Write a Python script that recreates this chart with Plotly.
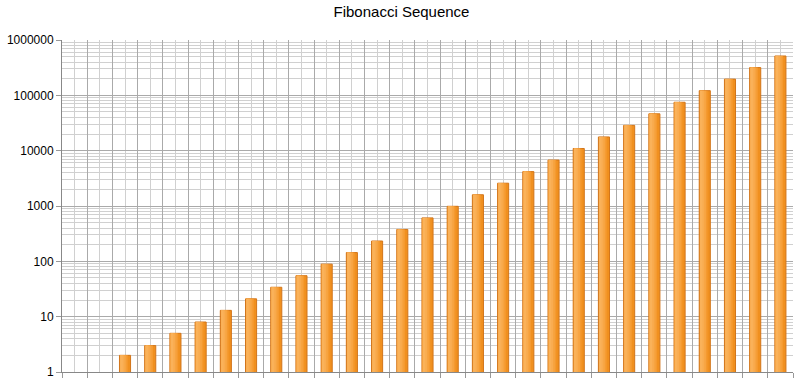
import plotly.graph_objects as go

# Data
positions = list(range(1, 30))
fib_values = [1, 1, 2, 3, 5, 8, 13, 21, 34, 55, 89, 144, 233, 377, 610, 987,
              1597, 2584, 4181, 6765, 10946, 17711, 28657, 46368, 75025,
              121393, 196418, 317811, 514229]
y_tick_vals = [1, 10, 100, 1000, 10000, 100000, 1000000]
y_tick_text = ["1", "10", "100", "1000", "10000", "100000", "1000000"]

minor_y = [k * 10 ** n for n in range(0, 6) for k in range(2, 10)]
boundaries = [p - 0.5 for p in positions] + [positions[-1] + 0.5]

fig = go.Figure()

bar_w = 0.44
line_widths = [0 if v <= 1 else 1 for v in fib_values]
# base bar with outline
fig.add_trace(go.Bar(x=positions, y=fib_values, width=bar_w,
                     marker=dict(color="#f0901f", line=dict(color="#d2751a", width=line_widths)),
                     hoverinfo="x+y", showlegend=False))
# gradient strips (left lighter)
strips = [("#f59a30", 0.30), ("#f7a441", 0.24), ("#f9ac50", 0.17), ("#fab25a", 0.10)]
for col, w in strips:
    fig.add_trace(go.Bar(x=positions, y=fib_values, width=w,
                         offset=-bar_w / 2 + 0.03,
                         marker=dict(color=col, line=dict(width=0)),
                         hoverinfo="skip", showlegend=False))

fig.update_layout(
    width=803, height=383,
    margin=dict(l=62, r=10, t=40, b=11, autoexpand=False),
    paper_bgcolor="white", plot_bgcolor="white",
    barmode="overlay",
    title=dict(text="Fibonacci Sequence", x=0.5, xanchor="center", y=0.982, yanchor="top",
               font=dict(family="Liberation Sans, Arial", size=15, color="#000")),
    font=dict(family="Liberation Sans, Arial", size=12, color="#000"),
    xaxis=dict(range=[0.5, 29.5], tickvals=boundaries, showticklabels=False,
               ticks="outside", ticklen=5, tickcolor="#999", tickwidth=1,
               showgrid=True, gridcolor="#aaaaaa", gridwidth=1,
               showline=True, linecolor="#888", linewidth=1, zeroline=False,
               automargin=False,
               minor=dict(tickvals=positions, showgrid=True, gridcolor="#d0d0d0",
                          gridwidth=1, ticks=""),
               fixedrange=True),
    yaxis=dict(type="log", range=[0, 6], tickvals=y_tick_vals, ticktext=y_tick_text,
               ticks="outside", ticklen=5, tickcolor="#999", ticklabelstandoff=0,
               showgrid=True, gridcolor="#aaaaaa", gridwidth=1,
               showline=True, linecolor="#888", linewidth=1,
               automargin=False,
               minor=dict(tickvals=minor_y, showgrid=True, gridcolor="#d0d0d0",
                          gridwidth=1, ticks=""),
               fixedrange=True),
)

fig.write_html("out.html", config={"displayModeBar": False},
               post_script="document.body.style.margin='0';document.body.style.overflow='hidden';")
